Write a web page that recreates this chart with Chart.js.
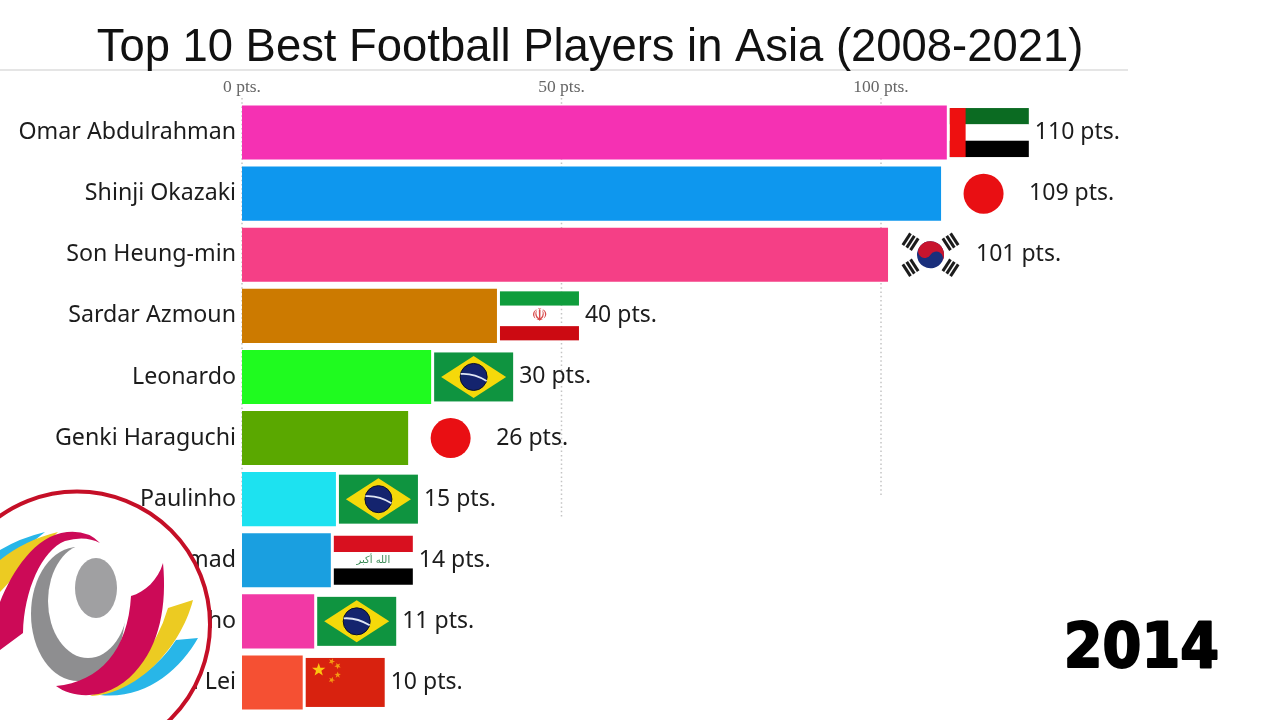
<!DOCTYPE html>
<html>
<head>
<meta charset="utf-8">
<title>Top 10 Best Football Players in Asia</title>
<script src="https://cdn.jsdelivr.net/npm/chart.js@4/dist/chart.umd.min.js"></script>
<style>
html,body{margin:0;padding:0;background:#fff;overflow:hidden}
#wrap{position:relative;width:1272px;height:720px}
</style>
</head>
<body>
<div id="wrap"><canvas id="chart"></canvas></div>
<script>
const players = ['Omar Abdulrahman','Shinji Okazaki','Son Heung-min','Sardar Azmoun','Leonardo','Genki Haraguchi','Paulinho','Hammadi Ahmad','Renatinho','Wu Lei'];
// bars are caught mid-animation so values are not whole numbers, labels are rounded
const points = [110.3,109.4,101.1,39.9,29.6,26,14.7,13.9,11.3,9.5];
const barColors = ['#f531b3','#0e97ee','#f53f86','#cc7a00','#1ffb1f','#5aa800','#1de2f0','#1a9fe0','#f239a5','#f55033'];
const flags = ['uae','japan','korea','iran','brazil','japan','brazil','iraq','brazil','china'];
const tickValues = [0,50,100];
const titleText = 'Top 10 Best Football Players in Asia (2008-2021)';
const yearText = '2014';

const labelFont = '23px "Noto Sans"';
const gridBottom = {0:517,50:517,100:497};

function rect(c,col,x,y,w,h){c.fillStyle=col;c.fillRect(x,y,w,h)}

function star(c,x,y,r,rot){
    c.beginPath();
    for(let i=0;i<10;i++){
        const a=rot-Math.PI/2+i*Math.PI/5, q=i%2?r*0.4:r;
        c.lineTo(x+Math.cos(a)*q,y+Math.sin(a)*q);
    }
    c.closePath();c.fill();
}

function trigram(c,x,y,ang,col){
    c.save();c.translate(x,y);c.rotate(ang);c.fillStyle=col;
    for(let i=-1;i<=1;i++)c.fillRect(-7,i*4.6-1.5,14,3);
    c.restore();
}

// w=79 h=49, x,y is top left of the flag
const drawFlag = {
    uae(c,x,y,w,h){
        rect(c,'#0b6b22',x,y,w,h/3);
        rect(c,'#ffffff',x,y+h/3,w,h/3);
        rect(c,'#000000',x,y+2*h/3,w,h/3);
        rect(c,'#ee1010',x,y,w*0.2,h);
    },
    japan(c,x,y,w,h){
        c.fillStyle='#e90f13';c.beginPath();c.arc(x+w/2,y+h/2,20,0,Math.PI*2);c.fill();
    },
    korea(c,x,y,w,h){
        const cx=x+w/2,cy=y+h/2,r=13.5;
        c.save();
        c.translate(cx,cy);c.rotate(0.55);
        c.fillStyle='#1a2f7c';c.beginPath();c.arc(0,0,r,0,Math.PI*2);c.fill();
        c.fillStyle='#c8142e';c.beginPath();c.arc(0,0,r,Math.PI,0);
        c.arc(r/2,0,r/2,0,Math.PI,true);c.arc(-r/2,0,r/2,0,Math.PI,false);c.fill();
        c.restore();
        [[-1,-1],[1,-1],[-1,1],[1,1]].forEach(d=>{
            trigram(c,cx+d[0]*20,cy+d[1]*13,Math.atan2(d[1]*13,d[0]*20)-Math.PI/2,'#1c1c1c');
        });
    },
    iran(c,x,y,w,h){
        rect(c,'#0f9d3c',x,y,w,h*0.29);
        rect(c,'#cc0a12',x,y+h*0.71,w,h*0.29);
        c.fillStyle='#d84a4a';c.font='18px "DejaVu Sans"';c.textAlign='center';c.textBaseline='middle';
        c.fillText('\u262B',x+w/2,y+h/2);
    },
    brazil(c,x,y,w,h){
        const mx=x+w/2,my=y+h/2;
        rect(c,'#0f9440',x,y,w,h);
        c.fillStyle='#f5d90a';c.beginPath();
        c.moveTo(x+7,my);c.lineTo(mx,y+3.5);c.lineTo(x+w-7,my);c.lineTo(mx,y+h-3.5);c.closePath();c.fill();
        c.fillStyle='#14246e';c.beginPath();c.arc(mx,my,13.5,0,Math.PI*2);c.fill();
        c.strokeStyle='#0a0f2a';c.lineWidth=1;c.stroke();
        c.strokeStyle='#dfe6f5';c.lineWidth=1.8;c.beginPath();
        c.moveTo(mx-13,my-3);c.quadraticCurveTo(mx,my-4,mx+13,my+4);c.stroke();
    },
    iraq(c,x,y,w,h){
        rect(c,'#d8101f',x,y,w,h/3);
        rect(c,'#ffffff',x,y+h/3,w,h/3);
        rect(c,'#000000',x,y+2*h/3,w,h/3);
        c.fillStyle='#3a8a55';c.font='10px "DejaVu Sans"';c.textAlign='center';c.textBaseline='middle';
        c.fillText('\u0627\u0644\u0644\u0647 \u0623\u0643\u0628\u0631',x+w/2,y+h/2);
    },
    china(c,x,y,w,h){
        rect(c,'#d8220f',x,y,w,h);
        c.fillStyle='#fcc60f';
        star(c,x+13,y+12,7,0);
        c.fillStyle='#f59a12';
        star(c,x+26,y+3.5,3.4,0.4);
        star(c,x+32,y+8,3.4,0.8);
        star(c,x+32,y+17,3.4,0);
        star(c,x+26,y+22,3.4,0.4);
    }
};

function curveShape(c,col,fn){c.fillStyle=col;c.beginPath();fn();c.closePath();c.fill()}

function drawLogo(c){
    const cx=77,cy=624.5,r=133;
    c.save();
    c.beginPath();c.arc(cx,cy,r,0,Math.PI*2);
    c.fillStyle='#fff';c.fill();
    c.strokeStyle='#c50f27';c.lineWidth=4;c.stroke();
    // grey rings
    c.fillStyle='#8e8e90';c.beginPath();c.ellipse(78,614,47,67,0,0,Math.PI*2);c.fill();
    c.fillStyle='#fff';c.beginPath();c.ellipse(88,601,40,57,0,0,Math.PI*2);c.fill();
    c.fillStyle='#a0a0a2';c.beginPath();c.ellipse(96,588,21,30,0,0,Math.PI*2);c.fill();
    // left wing
    curveShape(c,'#28b6e8',()=>{c.moveTo(0,550);c.quadraticCurveTo(20,538,45,532);c.lineTo(20,552);c.lineTo(0,572)});
    curveShape(c,'#eccb22',()=>{c.moveTo(0,560);c.quadraticCurveTo(25,540,58,532);c.lineTo(30,560);c.lineTo(0,592)});
    curveShape(c,'#cc0a57',()=>{
        c.moveTo(0,602);c.bezierCurveTo(12,572,35,535,67,532);c.quadraticCurveTo(88,530,100,543);
        c.quadraticCurveTo(85,535,65,541);c.bezierCurveTo(42,550,24,590,23,633);c.lineTo(0,650);
    });
    // right wing
    curveShape(c,'#28b6e8',()=>{c.moveTo(198,638);c.lineTo(176,640);c.quadraticCurveTo(150,680,100,695);c.bezierCurveTo(145,700,180,670,198,638)});
    curveShape(c,'#eccb22',()=>{c.moveTo(193,600);c.lineTo(168,608);c.quadraticCurveTo(150,670,90,696);c.bezierCurveTo(135,695,180,650,193,600)});
    curveShape(c,'#cc0a57',()=>{
        c.moveTo(163,563);c.bezierCurveTo(158,580,145,592,131,596);
        c.bezierCurveTo(128,650,100,682,56,686);c.bezierCurveTo(75,700,110,700,135,672);
        c.bezierCurveTo(160,645,167,605,163,563);
    });
    c.restore();
}

const overlay = {
    id:'overlay',
    beforeDatasetsDraw(chart){
        const c=chart.ctx, x=chart.scales.x;
        c.save();
        // header rule
        c.strokeStyle='#dcdcdc';c.lineWidth=1.5;
        c.beginPath();c.moveTo(0,70);c.lineTo(1128,70);c.stroke();
        // dotted grid, stops short of the bottom rows
        c.strokeStyle='#c4c4c4';c.lineWidth=1.5;c.setLineDash([1.5,2.8]);
        tickValues.forEach(v=>{
            const px=x.getPixelForValue(v);
            c.beginPath();c.moveTo(px,98);c.lineTo(px,gridBottom[v]);c.stroke();
        });
        c.restore();
    },
    afterDatasetsDraw(chart){
        const c=chart.ctx, bars=chart.getDatasetMeta(0).data;
        c.save();
        bars.forEach((b,i)=>{
            const fx=b.x+3, fy=b.y-24.5;
            drawFlag[flags[i]](c,fx,fy,79,49);
            c.fillStyle='#1c1c1c';c.font=labelFont;c.textAlign='left';c.textBaseline='middle';
            c.fillText(Math.round(points[i])+' pts.',fx+79+6,b.y);
        });
        c.fillStyle='#111';c.font='45.4px "Liberation Sans"';c.textAlign='center';c.textBaseline='alphabetic';
        c.fillText(titleText,590,61);
        c.fillStyle='#000';c.strokeStyle='#000';c.lineWidth=2;c.lineJoin='round';
        c.font='bold 62px "DejaVu Sans Condensed"';c.textAlign='right';
        c.fillText(yearText,1219,667);
        c.strokeText(yearText,1219,667);
        drawLogo(c);
        c.restore();
    }
};

new Chart(document.getElementById('chart'),{
    type:'bar',
    data:{
        labels:players,
        datasets:[{data:points,backgroundColor:barColors,barPercentage:0.885,categoryPercentage:1,borderWidth:0}]
    },
    options:{
        indexAxis:'y',
        responsive:true,
        maintainAspectRatio:false,
        animation:false,
        layout:{padding:{left:0,top:0,right:71.5,bottom:7}},
        plugins:{legend:{display:false},title:{display:false},tooltip:{enabled:false}},
        scales:{
            x:{
                position:'top',min:0,max:150,
                afterFit(s){s.height=102},
                afterBuildTicks(s){s.ticks=tickValues.map(v=>({value:v}))},
                grid:{display:false,drawTicks:false},border:{display:false},
                ticks:{callback:v=>v+' pts.',color:'#666',font:{family:'"Liberation Serif"',size:17.5},padding:4,maxRotation:0}
            },
            y:{
                afterFit(s){s.width=242;s.paddingTop=0;s.paddingBottom=0},
                grid:{display:false,drawTicks:false},border:{display:false},
                ticks:{color:'#1c1c1c',font:{family:'"Noto Sans"',size:23.2},padding:6,autoSkip:false}
            }
        }
    },
    plugins:[overlay]
});
</script>
</body>
</html>
